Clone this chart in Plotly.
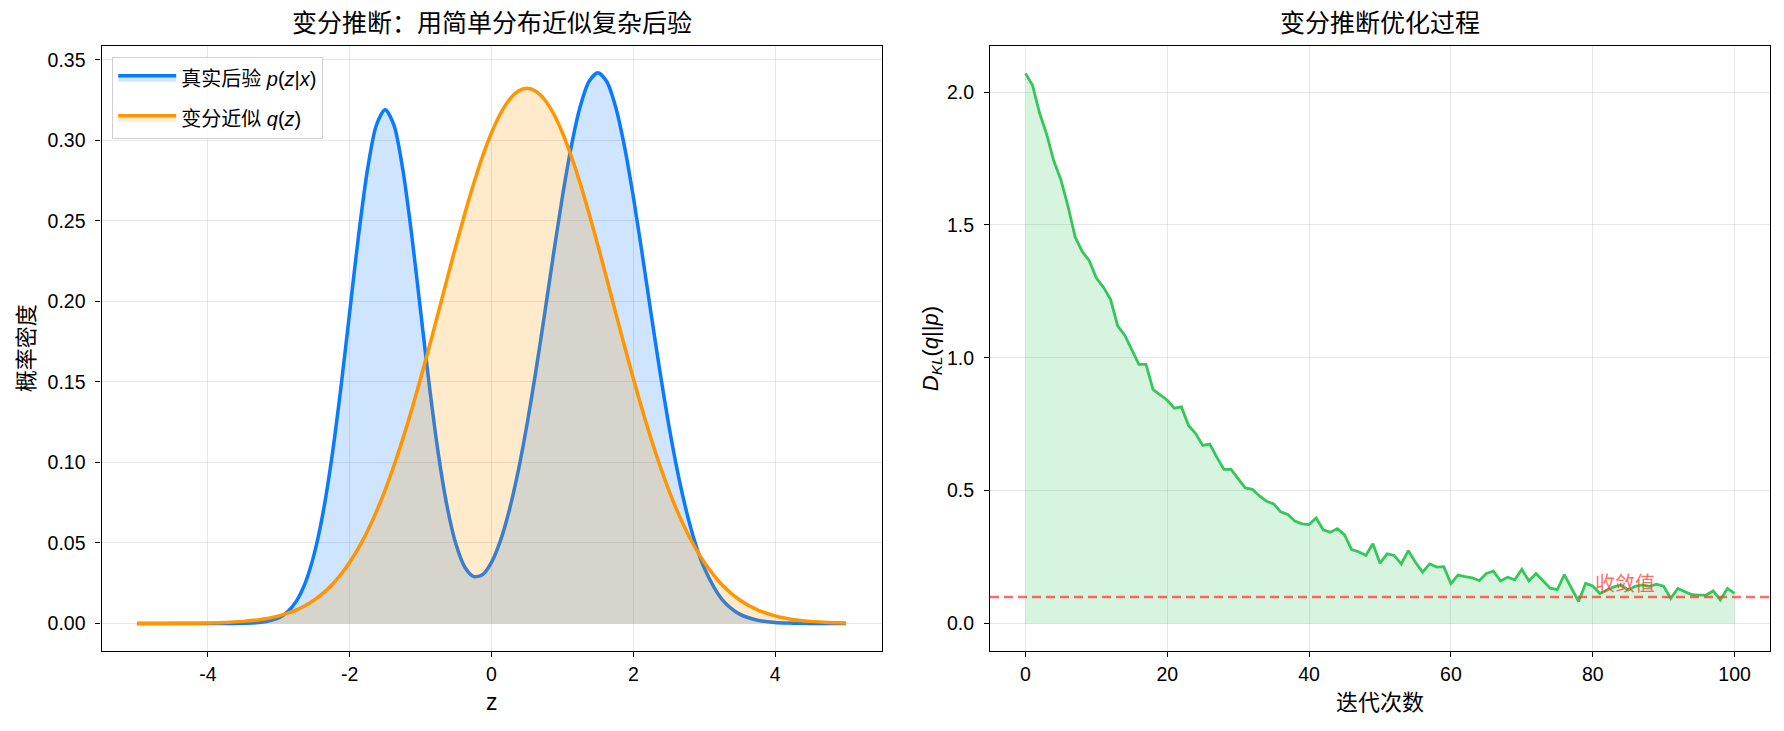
import plotly.graph_objects as go

# ---------------- data ----------------
z = [-5.0, -4.75, -4.5, -4.25, -4.0, -3.75, -3.5, -3.25,
     -3.0, -2.875, -2.75, -2.625, -2.5, -2.375, -2.25, -2.125, -2.0, -1.875, -1.75, -1.625,
     -1.5, -1.375, -1.25, -1.125, -1.0, -0.875, -0.75, -0.625, -0.5, -0.375, -0.25, -0.125,
     0.0, 0.125, 0.25, 0.375, 0.5, 0.625, 0.75, 0.875, 1.0, 1.125, 1.25, 1.375,
     1.5, 1.625, 1.75, 1.875, 2.0, 2.125, 2.25, 2.375, 2.5, 2.625, 2.75, 2.875, 3.0,
     3.25, 3.5, 3.75, 4.0, 4.25, 4.5, 4.75, 5.0]
p_true = [0.0000, 0.0000, 0.0000, 0.0000, 0.0000, 0.0000, 0.0001, 0.0007,
          0.0035, 0.0073, 0.0140, 0.0254, 0.0432, 0.0690, 0.1036, 0.1461, 0.1935, 0.2409, 0.2816, 0.3093,
          0.3191, 0.3094, 0.2818, 0.2412, 0.1941, 0.1472, 0.1055, 0.0724, 0.0490, 0.0349, 0.0291, 0.0304,
          0.0380, 0.0513, 0.0702, 0.0943, 0.1234, 0.1566, 0.1926, 0.2296, 0.2650, 0.2963, 0.3209, 0.3366,
          0.3420, 0.3366, 0.3209, 0.2963, 0.2650, 0.2296, 0.1926, 0.1566, 0.1233, 0.0940, 0.0695, 0.0497, 0.0344,
          0.0150, 0.0058, 0.0020, 0.0006, 0.0002, 0.0000, 0.0000, 0.0000]
q_approx = [0.0000, 0.0000, 0.0001, 0.0001, 0.0003, 0.0006, 0.0013, 0.0025,
            0.0047, 0.0064, 0.0085, 0.0112, 0.0146, 0.0188, 0.0241, 0.0304, 0.0380, 0.0469, 0.0573, 0.0693,
            0.0829, 0.0981, 0.1148, 0.1329, 0.1522, 0.1724, 0.1932, 0.2142, 0.2349, 0.2548, 0.2734, 0.2903,
            0.3048, 0.3166, 0.3253, 0.3306, 0.3324, 0.3306, 0.3253, 0.3166, 0.3048, 0.2903, 0.2734, 0.2548,
            0.2349, 0.2142, 0.1932, 0.1724, 0.1522, 0.1329, 0.1148, 0.0981, 0.0829, 0.0693, 0.0573, 0.0469, 0.0380,
            0.0241, 0.0146, 0.0085, 0.0047, 0.0025, 0.0013, 0.0006, 0.0003]

iters = list(range(101))
kl = [2.070, 2.025, 1.920, 1.840, 1.740, 1.670, 1.570, 1.455, 1.400, 1.365,
      1.300, 1.265, 1.220, 1.120, 1.085, 1.030, 0.975, 0.975, 0.880, 0.860,
      0.840, 0.810, 0.815, 0.745, 0.715, 0.670, 0.675, 0.625, 0.580, 0.580,
      0.545, 0.510, 0.505, 0.480, 0.460, 0.450, 0.420, 0.410, 0.385, 0.375,
      0.372, 0.397, 0.352, 0.343, 0.357, 0.333, 0.278, 0.270, 0.256, 0.300,
      0.227, 0.262, 0.256, 0.224, 0.274, 0.230, 0.193, 0.224, 0.212, 0.214,
      0.150, 0.182, 0.176, 0.172, 0.161, 0.188, 0.197, 0.160, 0.174, 0.164,
      0.204, 0.160, 0.188, 0.161, 0.133, 0.127, 0.184, 0.133, 0.083, 0.151,
      0.141, 0.113, 0.126, 0.138, 0.145, 0.126, 0.140, 0.145, 0.140, 0.148,
      0.140, 0.094, 0.132, 0.120, 0.108, 0.107, 0.107, 0.123, 0.088, 0.132, 0.113]
converge_value = 0.1

left_xticks = [-4, -2, 0, 2, 4]
left_xticklabels = ["-4", "-2", "0", "2", "4"]
left_yticks = [0.00, 0.05, 0.10, 0.15, 0.20, 0.25, 0.30, 0.35]
right_xticks = [0, 20, 40, 60, 80, 100]
right_yticks = [0.0, 0.5, 1.0, 1.5, 2.0]

# ---------------- style ----------------
FONT = "Liberation Sans, Arial, Noto Sans CJK SC, sans-serif"
BLUE = "#0A7AFF"
ORANGE = "#FF9500"
GREEN = "#34C759"
GRID = "rgba(176,176,176,0.3)"
W, H = 1784, 731


def px_x(v):
    return v / W


def px_y(v):
    return 1 - v / H


LEFT_DOM = [px_x(101.5), px_x(881.5)]
RIGHT_DOM = [px_x(990), px_x(1770)]
YDOM = [px_y(651), px_y(45.5)]

fig = go.Figure()

fig.add_trace(go.Scatter(
    x=z, y=p_true, mode="lines", name="真实后验 <i>p</i>(<i>z</i>|<i>x</i>)",
    legendgroup="a",
    line=dict(color=BLUE, width=3.5, shape="spline", smoothing=0.8),
    fill="tozeroy", fillcolor="rgba(10,122,255,0.2)", xaxis="x", yaxis="y"))
fig.add_trace(go.Scatter(
    x=z, y=q_approx, mode="lines", name="变分近似 <i>q</i>(<i>z</i>)",
    legendgroup="b",
    line=dict(color=ORANGE, width=3.5, shape="spline", smoothing=0.8),
    fill="tozeroy", fillcolor="rgba(255,149,0,0.2)", xaxis="x", yaxis="y"))
fig.add_trace(go.Scatter(
    x=iters, y=kl, mode="lines", showlegend=False,
    line=dict(color=GREEN, width=2.8),
    fill="tozeroy", fillcolor="rgba(52,199,89,0.2)", xaxis="x2", yaxis="y2"))

axis_common = dict(
    showline=True, linecolor="black", linewidth=1.2, mirror=True,
    ticks="outside", ticklen=5, tickwidth=1.2, tickcolor="black",
    showgrid=True, gridcolor=GRID, gridwidth=1.2, zeroline=False,
    tickfont=dict(family=FONT, size=19.5, color="black"),
)

fig.update_layout(
    width=W, height=H,
    margin=dict(l=0, r=0, t=0, b=0),
    paper_bgcolor="white", plot_bgcolor="white",
    font=dict(family=FONT, color="black"),
    xaxis=dict(domain=LEFT_DOM, range=[-5.5, 5.5], anchor="y",
               tickvals=left_xticks, ticktext=left_xticklabels, **axis_common),
    yaxis=dict(domain=YDOM, range=[-0.0171, 0.359], anchor="x",
               tickvals=left_yticks, tickformat=".2f", ticklabelstandoff=6, **axis_common),
    xaxis2=dict(domain=RIGHT_DOM, range=[-5, 105], anchor="y2",
                tickvals=right_xticks, **axis_common),
    yaxis2=dict(domain=YDOM, range=[-0.1036, 2.175], anchor="x2",
                tickvals=right_yticks, tickformat=".1f", ticklabelstandoff=6, **axis_common),
    legend=dict(x=px_x(112), y=px_y(57), xanchor="left", yanchor="top",
                bgcolor="rgba(255,255,255,0.8)", bordercolor="#d0d0d0", borderwidth=1.2,
                font=dict(family=FONT, size=20, color="black"),
                itemwidth=58, tracegroupgap=11),
    showlegend=True,
)

fig.add_shape(type="line", xref="x2 domain", yref="y2", x0=0, x1=1,
              y0=converge_value, y1=converge_value,
              line=dict(color="rgba(255,59,48,0.75)", width=2.5, dash="9px,5px"))

fig.add_annotation(x=80, y=0.12, xref="x2", yref="y2", text="收敛值", showarrow=False,
                   xanchor="left", yanchor="bottom", yshift=-5,
                   font=dict(family=FONT, size=20, color="rgba(255,59,48,0.75)"))

# titles
fig.add_annotation(x=sum(LEFT_DOM) / 2, y=px_y(23), xref="paper", yref="paper",
                   text="变分推断：用简单分布近似复杂后验", showarrow=False,
                   xanchor="center", yanchor="middle",
                   font=dict(family=FONT, size=25, color="black"))
fig.add_annotation(x=sum(RIGHT_DOM) / 2, y=px_y(23), xref="paper", yref="paper",
                   text="变分推断优化过程", showarrow=False,
                   xanchor="center", yanchor="middle",
                   font=dict(family=FONT, size=25, color="black"))

# axis titles
ymid = sum(YDOM) / 2
fig.add_annotation(x=sum(LEFT_DOM) / 2, y=px_y(702), xref="paper", yref="paper",
                   text="z", showarrow=False, xanchor="center", yanchor="middle",
                   font=dict(family=FONT, size=23, color="black"))
fig.add_annotation(x=sum(RIGHT_DOM) / 2, y=px_y(702), xref="paper", yref="paper",
                   text="迭代次数", showarrow=False, xanchor="center", yanchor="middle",
                   font=dict(family=FONT, size=22, color="black"))
fig.add_annotation(x=px_x(26), y=ymid, xref="paper", yref="paper",
                   text="概率密度", showarrow=False, xanchor="center", yanchor="middle",
                   textangle=-90, font=dict(family=FONT, size=22, color="black"))
fig.add_annotation(x=px_x(932), y=ymid, xref="paper", yref="paper",
                   text="<i>D</i><sub><i>KL</i></sub>(<i>q</i>||<i>p</i>)", showarrow=False,
                   xanchor="center", yanchor="middle", textangle=-90,
                   font=dict(family=FONT, size=22, color="black"))

fig.write_html("out.html")
